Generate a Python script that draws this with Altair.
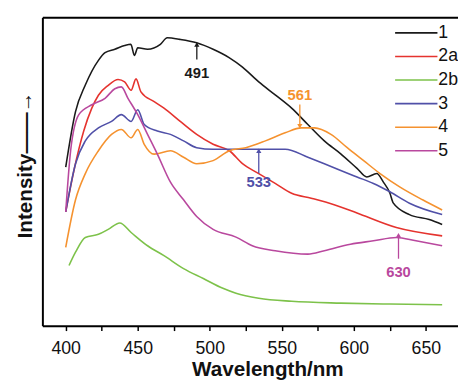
import altair as alt
import pandas as pd

FONT = "Liberation Sans"

series_names = ["1", "2a", "2b", "3", "4", "5"]
series_colors = ["#1a1a1a", "#e5332e", "#7dc24a", "#5050a8", "#f5922f", "#b9489e"]

wl_1 = [400, 406.8, 413.6, 422.7, 427.3, 434.1, 440.9, 445.2, 447.7, 450, 456.8, 465.7, 470.5, 479.3,
        490.9, 502.3, 513.4, 522.7, 534.0, 545.4, 556.8, 567.9, 579.5, 590.9, 602.2, 609.0, 615.9,
        620.4, 625.0, 627.3, 638.6, 652.3, 661.3]
int_1 = [51.4, 69.4, 78.0, 86.0, 88.5, 89.6, 90.8, 91.2, 87.6, 90.1, 89.6, 91.2, 93.3, 92.8,
         91.7, 89.6, 86.9, 83.8, 79.0, 74.8, 70.5, 65.3, 59.9, 55.7, 51.0, 48.2, 49.3,
         46.6, 43.0, 39.8, 36.0, 34.4, 32.8]

wl_2a = [400, 405.7, 412.5, 418.1, 422.7, 429.5, 436.3, 440.9, 445.4, 448.8, 452.2, 461.4, 468.2,
         479.5, 490.9, 502.3, 513.6, 522.7, 534.0, 545.4, 556.8, 570.4, 586.3, 602.2, 629.5, 661.3]
int_2a = [36.9, 50.3, 63.1, 70.5, 74.7, 77.9, 79.8, 79.0, 76.3, 80.0, 75.8, 72.6, 70.5,
          66.2, 62.0, 58.8, 56.7, 52.5, 49.3, 46.1, 42.9, 41.3, 39.2, 36.5, 31.8, 29.1]

wl_2b = [402.3, 406.8, 413.6, 422.7, 429.5, 437.5, 445.4, 456.8, 468.2, 481.8, 495.5, 509.1,
         518.2, 534.0, 556.8, 590.9, 625.0, 661.3]
int_2b = [19.5, 23.8, 28.6, 29.6, 31.2, 33.3, 30.2, 25.9, 22.7, 18.5, 15.3, 12.1,
          10.5, 8.9, 7.9, 7.3, 7.0, 6.8]

wl_3 = [400, 406.8, 413.6, 422.7, 431.8, 438.6, 445.4, 450, 454.5, 463.6, 472.7, 481.8, 490.9,
        502.3, 513.6, 534.0, 552.3, 568.1, 579.5, 590.9, 602.2, 613.6, 625.0, 638.6, 661.3]
int_3 = [36.9, 52.5, 59.9, 64.1, 66.2, 68.4, 66.2, 70.0, 65.2, 63.1, 62.0, 59.9, 57.7,
         57.2, 57.2, 57.2, 57.2, 54.6, 52.5, 50.3, 48.2, 46.1, 43.4, 39.7, 36.0]

wl_4 = [400, 406.8, 413.6, 422.7, 431.8, 438.6, 445.4, 450, 454.5, 461.4, 472.7, 481.8, 490.9,
        502.3, 513.6, 525.0, 538.6, 552.3, 563.6, 572.7, 584.1, 595.4, 606.8, 618.2, 631.8,
        647.7, 661.3]
int_4 = [25.4, 40.8, 49.3, 56.7, 62.0, 63.6, 60.9, 63.6, 58.8, 55.6, 56.7, 54.6, 52.5,
         53.5, 56.7, 57.7, 59.9, 62.5, 64.1, 64.1, 62.0, 57.7, 53.5, 49.3, 45.0,
         40.8, 37.5]

wl_5 = [400, 403.4, 409.1, 418.1, 427.3, 434.1, 438.6, 443.2, 450, 456.8, 463.6, 472.7, 481.8,
        490.9, 502.3, 518.2, 529.5, 545.4, 568.1, 579.5, 597.7, 613.6, 629.5, 643.1, 661.3]
int_5 = [36.9, 56.7, 68.4, 71.6, 73.7, 76.8, 77.4, 73.7, 68.4, 62.0, 55.6, 46.5, 40.8,
         35.4, 31.2, 28.7, 25.9, 24.3, 23.2, 24.3, 26.4, 27.5, 28.6, 27.5, 25.9]

# peak annotations
ann_text = ["491", "561", "533", "630"]
ann_series = ["1", "4", "3", "5"]
ann_wl = [491, 562.5, 534, 631]
ann_tail = [86.3, 71.7, 49.4, 21.7]
ann_tip = [91.1, 64.6, 56.7, 29.3]
ann_label_y = [81.8, 74.8, 46.5, 17.5]
ann_shape = ["triangle-up", "triangle-down", "triangle-up", "triangle-up"]

rows = []
for name, wls, vals in [("1", wl_1, int_1), ("2a", wl_2a, int_2a), ("2b", wl_2b, int_2b),
                        ("3", wl_3, int_3), ("4", wl_4, int_4), ("5", wl_5, int_5)]:
    for w, v in zip(wls, vals):
        rows.append({"wl": w, "I": v, "s": name})
df = pd.DataFrame(rows)

ann = pd.DataFrame({"t": ann_text, "s": ann_series, "wl": ann_wl, "tail": ann_tail,
                    "tip": ann_tip, "ly": ann_label_y, "shape": ann_shape})

xscale = alt.Scale(domain=[383.8, 672.3], nice=False, zero=False)
yscale = alt.Scale(domain=[0, 100], nice=False, zero=False)
cscale = alt.Scale(domain=series_names, range=series_colors)

yaxis = alt.Axis(
    ticks=False, labels=False, grid=False, domainWidth=2, domainColor="black",
    title="Intensity——→", titleFontSize=21, titleFont=FONT, titleFontWeight="bold",
    titleColor="#111", titlePadding=7, titleY=150)

lines = alt.Chart(df).mark_line(strokeWidth=1.6, interpolate="monotone").encode(
    x=alt.X("wl:Q", scale=xscale, axis=alt.Axis(
        values=[400, 425, 450, 475, 500, 525, 550, 575, 600, 625, 650],
        labelExpr="datum.value % 50 == 0 ? datum.label : ''",
        tickSize=5, tickWidth=1.5, tickColor="black", domainWidth=2, domainColor="black",
        labelFontSize=18, labelFont=FONT, labelColor="#111", labelPadding=9,
        title="Wavelength/nm", titleFontSize=21, titleFont=FONT, titleFontWeight="bold",
        titleColor="#111", titlePadding=2, titleX=229, grid=False)),
    y=alt.Y("I:Q", scale=yscale, axis=yaxis),
    color=alt.Color("s:N", scale=cscale, sort=series_names, legend=alt.Legend(
        orient="none", legendX=385, legendY=7, title=None, symbolType="M-6.5,0H1.5",
        symbolSize=116, symbolStrokeWidth=1.6, labelFontSize=18, labelFont=FONT,
        labelColor="#111", rowPadding=6, labelOffset=0, padding=0)),
    detail="s:N",
)

topaxis = alt.Chart(df).mark_line(opacity=0).encode(
    x=alt.X("wl:Q", scale=xscale, axis=alt.Axis(orient="top", labels=False, ticks=False,
                                                title=None, domainWidth=2, domainColor="black",
                                                grid=False)),
    y=alt.Y("I:Q", scale=yscale, title=""),
    detail="s:N",
)

arrows = alt.Chart(ann).mark_rule(strokeWidth=1.3).encode(
    x=alt.X("wl:Q", scale=xscale, axis=None),
    y=alt.Y("tail:Q", scale=yscale, title=""),
    y2="tip:Q",
    color=alt.Color("s:N", scale=cscale, legend=None),
)

heads = alt.Chart(ann).mark_point(filled=True, size=28, opacity=1).encode(
    x=alt.X("wl:Q", scale=xscale, axis=None),
    y=alt.Y("tip:Q", scale=yscale, title=""),
    shape=alt.Shape("shape:N", scale=None),
    color=alt.Color("s:N", scale=cscale, legend=None),
)

labels = alt.Chart(ann).mark_text(fontSize=15, font=FONT, fontWeight="bold", baseline="middle").encode(
    x=alt.X("wl:Q", scale=xscale, axis=None),
    y=alt.Y("ly:Q", scale=yscale, title=""),
    text="t:N",
    color=alt.Color("s:N", scale=cscale, legend=None),
)

chart = alt.layer(lines, topaxis, arrows, heads, labels).resolve_axis(x="independent").properties(
    width=423, height=314,
    autosize=alt.AutoSizeParams(type="none"),
    padding={"left": 35, "top": 6, "right": 0, "bottom": 53},
    background="white",
).configure_view(stroke=None)

chart.save("out.html", embed_options={"renderer": "svg", "actions": False})
